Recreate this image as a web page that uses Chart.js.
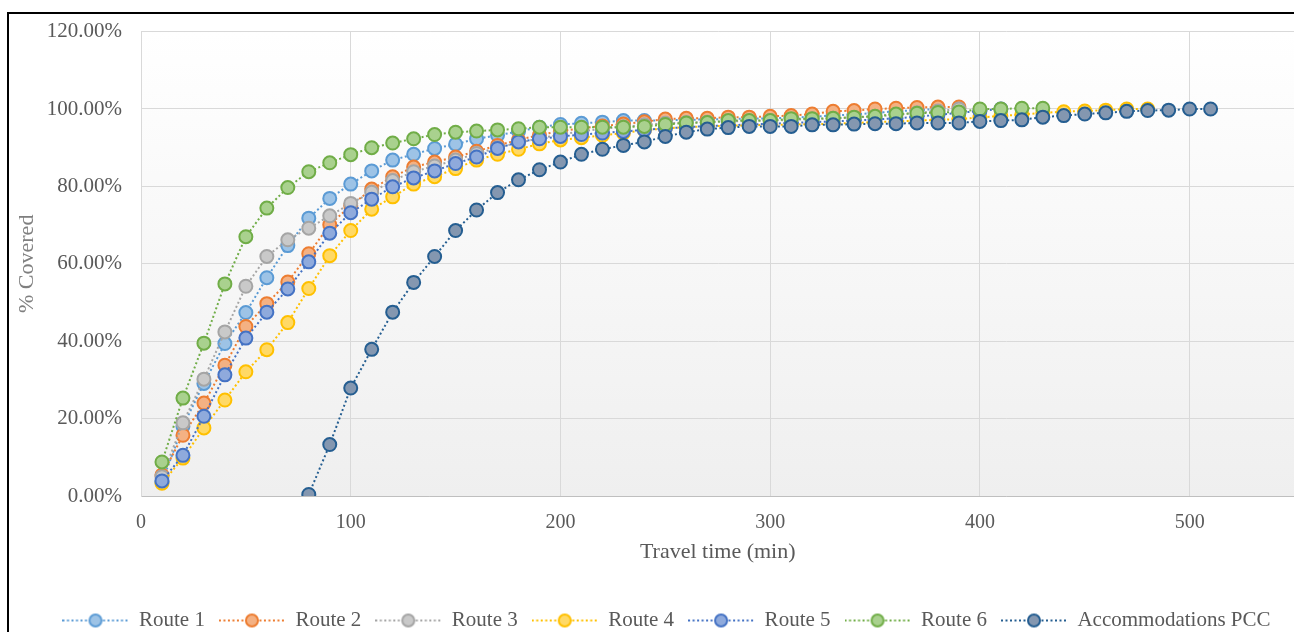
<!DOCTYPE html>
<html>
<head>
<meta charset="utf-8">
<script src="https://cdn.jsdelivr.net/npm/chart.js@4.4.0/dist/chart.umd.min.js"></script>
<style>
  html, body { margin: 0; padding: 0; background: #fff; overflow: hidden; }
  /* the plot runs off the right edge in the original, so the canvas is a bit wider than the view */
  #wrap { width: 1294px; height: 632px; overflow: hidden; }
</style>
</head>
<body>
<div id="wrap"><canvas id="coverage-chart" width="1303" height="632"></canvas></div>
<script>
// Travel time (min), one entry per measured step
const times = [10, 20, 30, 40, 50, 60, 70, 80, 90, 100,
  110, 120, 130, 140, 150, 160, 170, 180, 190, 200,
  210, 220, 230, 240, 250, 260, 270, 280, 290, 300,
  310, 320, 330, 340, 350, 360, 370, 380, 390, 400,
  410, 420, 430, 440, 450, 460, 470, 480, 490, 500, 510];

// % covered for each series (starting at 10 min)
const route1 = [3.6, 18.0, 29.1, 39.4, 47.4, 56.4, 64.7, 71.8, 76.9, 80.6,
  84.0, 86.8, 88.3, 89.8, 90.9, 92.3, 93.2, 94.2, 95.3, 96.0,
  96.3, 96.6, 97.0, 97.0, 97.1, 97.2, 97.3, 97.4, 97.5, 97.6,
  97.8, 98.0, 98.3, 98.6, 99.0, 99.4, 99.7, 100.0];
const route2 = [5.4, 15.7, 24.0, 33.8, 43.8, 49.7, 55.3, 62.6, 70.1, 75.0,
  79.3, 82.5, 85.0, 86.3, 87.6, 89.1, 90.6, 92.0, 93.3, 94.3,
  95.0, 95.6, 96.1, 96.7, 97.4, 97.6, 97.6, 97.9, 97.9, 98.1,
  98.3, 98.7, 99.4, 99.6, 100.0, 100.2, 100.4, 100.5, 100.5];
const route3 = [5.0, 18.9, 30.2, 42.4, 54.2, 61.9, 66.2, 69.2, 72.4, 75.6,
  78.5, 81.5, 83.8, 85.3, 86.8, 88.5, 90.0, 91.3, 92.4, 93.4,
  94.2, 94.9, 95.4, 95.9, 96.3, 96.5, 96.6, 96.8, 96.9, 97.0,
  97.2, 97.4, 97.6, 97.8, 98.1, 98.5, 99.0, 99.5, 100.0];
const route4 = [3.3, 9.8, 17.6, 24.8, 32.1, 37.8, 44.8, 53.6, 62.1, 68.6,
  74.1, 77.3, 80.6, 82.5, 84.6, 86.8, 88.3, 89.6, 91.0, 92.0,
  92.6, 93.2, 93.8, 94.5, 95.0, 95.3, 95.5, 95.7, 95.8, 95.9,
  96.0, 96.1, 96.2, 96.4, 96.6, 96.8, 97.0, 97.2, 97.4, 97.8,
  98.2, 98.6, 99.0, 99.3, 99.5, 99.7, 100.0, 100.0];
const route5 = [3.9, 10.5, 20.6, 31.3, 40.8, 47.5, 53.5, 60.5, 67.9, 73.2,
  76.7, 79.9, 82.2, 84.0, 85.9, 87.6, 89.8, 91.5, 92.3, 92.9,
  93.4, 93.8, 94.2, 94.6, 95.0, 95.3, 95.6, 95.8, 96.0, 96.2,
  96.4, 96.6, 96.8, 97.0, 97.3, 97.6, 98.0, 98.5, 99.0, 99.5, 100.0];
const route6 = [8.8, 25.3, 39.5, 54.8, 67.0, 74.4, 79.7, 83.8, 86.1, 88.2,
  90.0, 91.2, 92.3, 93.4, 94.0, 94.3, 94.6, 94.9, 95.3, 95.3,
  95.3, 95.3, 95.3, 95.5, 96.0, 96.4, 96.5, 97.0, 97.0, 97.0,
  97.5, 97.5, 97.6, 97.9, 98.1, 98.7, 98.9, 99.1, 99.2, 100.0,
  100.0, 100.2, 100.2];
// no coverage before 80 min
const accommodationsPcc = [null, null, null, null, null, null, null,
  0.4, 13.3, 27.9, 37.9, 47.5, 55.2, 61.9, 68.6, 73.9, 78.4,
  81.7, 84.3, 86.3, 88.3, 89.6, 90.6, 91.5, 92.9, 94.0, 94.8,
  95.2, 95.5, 95.5, 95.5, 95.9, 95.9, 96.1, 96.2, 96.2, 96.4,
  96.4, 96.4, 96.8, 97.0, 97.2, 97.9, 98.3, 98.7, 99.0, 99.4,
  99.6, 99.7, 100.0, 100.0];

const seriesNames = ["Route 1", "Route 2", "Route 3", "Route 4", "Route 5", "Route 6", "Accommodations PCC"];
const seriesValues = [route1, route2, route3, route4, route5, route6, accommodationsPcc];
const lineColors = ["#5b9bd5", "#ed7d31", "#a5a5a5", "#ffc000", "#4472c4", "#70ad47", "#255e91"];
const markerFills = ["#9dc3e6", "#f4b183", "#c9c9c9", "#ffd966", "#8faadc", "#a9d18e", "#8497b0"];

const textGray = "#595959";
const gridGray = "#d9d9d9";
const serif = "'Liberation Serif', 'Times New Roman', serif";

// small line + marker picture for the legend
function makeLegendSample(stroke, fill) {
  const c = document.createElement("canvas");
  c.width = 66;
  c.height = 16;
  const g = c.getContext("2d");
  g.strokeStyle = stroke;
  g.lineWidth = 2;
  g.setLineDash([2, 2.5]);
  g.beginPath();
  g.moveTo(0, 8);
  g.lineTo(66, 8);
  g.stroke();
  g.setLineDash([]);
  g.beginPath();
  g.arc(33, 8, 6, 0, Math.PI * 2);
  g.fillStyle = fill;
  g.fill();
  g.lineWidth = 2;
  g.stroke();
  return c;
}
const legendSamples = lineColors.map((c, i) => makeLegendSample(c, markerFills[i]));

// plot area gradient, like the Excel chart
const plotBackground = {
  id: "plotBackground",
  beforeDraw(chart) {
    const { ctx, chartArea: a } = chart;
    const grad = ctx.createLinearGradient(0, a.top, 0, a.bottom);
    grad.addColorStop(0, "#ffffff");
    grad.addColorStop(1, "#efefef");
    ctx.save();
    ctx.fillStyle = grad;
    ctx.fillRect(a.left, a.top, a.right - a.left, a.bottom - a.top);
    ctx.restore();
  },
};

// nudge the legend row right and down a bit
const legendShift = {
  id: "legendShift",
  afterLayout(chart) {
    const lg = chart.legend;
    lg.left += 15;
    lg.right += 15;
    lg.top += 9;
    lg.bottom += 9;
  },
};

// black frame on the left and top
const outerFrame = {
  id: "outerFrame",
  afterDraw(chart) {
    const ctx = chart.ctx;
    ctx.save();
    ctx.fillStyle = "#000";
    ctx.fillRect(7, 12, 2, chart.height);
    ctx.fillRect(7, 12, chart.width, 2);
    ctx.restore();
  },
};

const datasets = seriesNames.map((name, i) => ({
  label: name,
  data: times
    .map((t, j) => ({ x: t, y: seriesValues[i][j] }))
    .filter((p) => p.y !== undefined && p.y !== null),
  borderColor: lineColors[i],
  borderWidth: 2,
  borderDash: [2, 2.5],
  pointRadius: 6.5,
  pointHoverRadius: 6.5,
  pointBorderWidth: 2,
  pointBackgroundColor: markerFills[i],
  pointBorderColor: lineColors[i],
  tension: 0,
  fill: false,
  order: seriesNames.length - i, // last series on top
}));

const chartElement = document.getElementById("coverage-chart");
new Chart(chartElement, {
  type: "line",
  data: { datasets: datasets },
  plugins: [plotBackground, legendShift, outerFrame],
  options: {
    responsive: false,
    animation: false,
    layout: { padding: { left: 0, right: 0, top: 29, bottom: 0 } },
    plugins: {
      tooltip: { enabled: false },
      legend: {
        position: "bottom",
        labels: {
          usePointStyle: true,
          pointStyleWidth: 66,
          padding: 14,
          color: textGray,
          font: { family: serif, size: 21 },
          sort: (a, b) => a.datasetIndex - b.datasetIndex,
          generateLabels: function (chart) {
            const items = Chart.defaults.plugins.legend.labels.generateLabels(chart);
            items.forEach((item) => {
              item.pointStyle = legendSamples[item.datasetIndex];
            });
            return items;
          },
        },
      },
    },
    scales: {
      x: {
        type: "linear",
        min: 0,
        max: 550,
        ticks: {
          stepSize: 100,
          padding: 15,
          color: textGray,
          font: { family: serif, size: 20 },
        },
        afterBuildTicks: (scale) => {
          scale.ticks = scale.ticks.filter((t) => t.value % 100 === 0);
        },
        afterFit: (scale) => {
          scale.height = 91;
        },
        grid: { color: gridGray, drawTicks: false },
        border: { color: "#bfbfbf" },
        title: {
          display: true,
          text: "Travel time (min)",
          color: textGray,
          font: { family: serif, size: 22 },
          padding: { top: 0, bottom: 22 },
        },
      },
      y: {
        min: 0,
        max: 120,
        ticks: {
          stepSize: 20,
          padding: 19,
          color: textGray,
          font: { family: serif, size: 21 },
          callback: (v) => v.toFixed(2) + "%",
        },
        afterFit: (scale) => {
          scale.width = 141;
        },
        grid: { color: gridGray, drawTicks: false },
        border: { color: gridGray },
        title: {
          display: true,
          text: "% Covered",
          color: "#7f7f7f",
          font: { family: serif, size: 22 },
          padding: { top: 14, bottom: 0 },
        },
      },
    },
  },
});
</script>
</body>
</html>
